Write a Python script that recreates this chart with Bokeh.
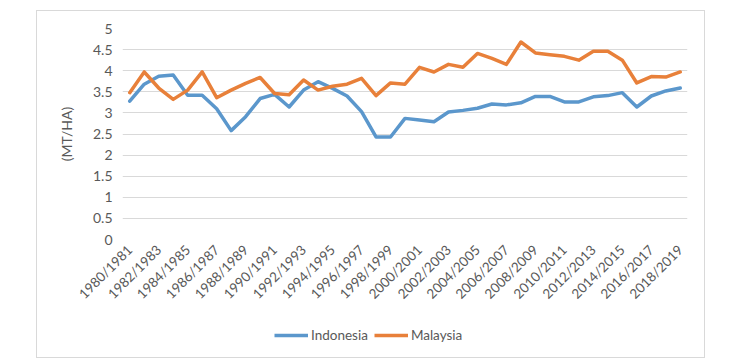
from bokeh.plotting import figure
from bokeh.layouts import column
from bokeh.models import FixedTicker, CustomJSTickFormatter, Legend, LegendItem, Range1d
from bokeh.embed import file_html
from bokeh.resources import INLINE

categories = ["1980/1981", "1981/1982", "1982/1983", "1983/1984", "1984/1985", "1985/1986",
              "1986/1987", "1987/1988", "1988/1989", "1989/1990", "1990/1991", "1991/1992",
              "1992/1993", "1993/1994", "1994/1995", "1995/1996", "1996/1997", "1997/1998",
              "1998/1999", "1999/2000", "2000/2001", "2001/2002", "2002/2003", "2003/2004",
              "2004/2005", "2005/2006", "2006/2007", "2007/2008", "2008/2009", "2009/2010",
              "2010/2011", "2011/2012", "2012/2013", "2013/2014", "2014/2015", "2015/2016",
              "2016/2017", "2017/2018", "2018/2019"]
indonesia = [3.28, 3.68, 3.87, 3.90, 3.42, 3.42, 3.10, 2.58, 2.91, 3.34, 3.44, 3.14, 3.54,
             3.74, 3.58, 3.40, 3.03, 2.43, 2.43, 2.87, 2.83, 2.79, 3.02, 3.06, 3.11, 3.21,
             3.19, 3.24, 3.39, 3.39, 3.26, 3.26, 3.38, 3.41, 3.48, 3.14, 3.40, 3.52, 3.59]
malaysia = [3.48, 3.97, 3.59, 3.32, 3.54, 3.97, 3.36, 3.54, 3.70, 3.84, 3.46, 3.43, 3.78,
            3.54, 3.63, 3.68, 3.82, 3.41, 3.71, 3.68, 4.08, 3.97, 4.15, 4.08, 4.41, 4.29,
            4.15, 4.68, 4.42, 4.38, 4.34, 4.25, 4.46, 4.46, 4.25, 3.71, 3.86, 3.85, 3.97]
y_ticks = [0, 0.5, 1, 1.5, 2, 2.5, 3, 3.5, 4, 4.5, 5]
series_names = ["Indonesia", "Malaysia"]
series_colors = ["#5b97cc", "#e8803a"]
series_values = [indonesia, malaysia]

FONT = "Lato"
TXT = "#595959"

x = list(range(len(categories)))

p = figure(width=667, height=300, output_backend="svg", toolbar_location=None,
           x_range=Range1d(-0.5, len(categories) - 0.5), y_range=Range1d(0, 5),
           min_border_left=85, min_border_right=17, min_border_top=17, min_border_bottom=72)
p.outline_line_color = None
p.background_fill_color = "white"
p.border_fill_color = "white"

for vals, c in zip(series_values, series_colors):
    p.line(x, vals, line_color=c, line_width=3.5, line_join="round", line_cap="round")

# x axis
p.xaxis.ticker = FixedTicker(ticks=x[::2])
p.xaxis.major_label_overrides = {i: categories[i] for i in x[::2]}
p.xaxis.major_label_orientation = 0.785398
p.xaxis.axis_line_color = None
p.xaxis.major_tick_line_color = None
p.xaxis.minor_tick_line_color = None
p.xaxis.major_tick_out = 0
p.xaxis.major_tick_in = 0
p.xaxis.major_label_text_font = FONT
p.xaxis.major_label_text_font_size = "13.5px"
p.xaxis.major_label_text_color = TXT
p.xaxis.major_label_standoff = 8
p.xgrid.grid_line_color = None

# y axis
p.yaxis.ticker = FixedTicker(ticks=y_ticks)
p.yaxis.formatter = CustomJSTickFormatter(code="return String(Math.round(tick*10)/10);")
p.yaxis.axis_line_color = None
p.yaxis.major_tick_line_color = None
p.yaxis.minor_tick_line_color = None
p.yaxis.major_tick_out = 0
p.yaxis.major_tick_in = 0
p.yaxis.major_label_text_font = FONT
p.yaxis.major_label_text_font_size = "14px"
p.yaxis.major_label_text_color = TXT
p.yaxis.major_label_standoff = 10
p.yaxis.axis_label = "(MT/HA)"
p.yaxis.axis_label_text_font = FONT
p.yaxis.axis_label_text_font_style = "normal"
p.yaxis.axis_label_text_font_size = "14px"
p.yaxis.axis_label_text_color = TXT
p.yaxis.axis_label_standoff = 15
p.ygrid.grid_line_color = "#d9d9d9"
p.ygrid.grid_line_width = 1

# legend strip (series drawn out of view here; only their legend glyphs show)
p2 = figure(width=667, height=46, output_backend="svg", toolbar_location=None,
            x_axis_type=None, y_axis_type=None, min_border=0,
            x_range=Range1d(0, 1), y_range=Range1d(-2, -1))
p2.outline_line_color = None
p2.grid.grid_line_color = None
p2.border_fill_color = "white"
lr = [p2.line(x, vals, line_color=c, line_width=3.5)
      for vals, c in zip(series_values, series_colors)]
legend = Legend(items=[LegendItem(label=n, renderers=[r]) for n, r in zip(series_names, lr)],
                location=(152, 14), orientation="horizontal",
                glyph_width=34, glyph_height=16, label_standoff=3, spacing=6,
                padding=0, margin=0, border_line_color=None, background_fill_alpha=0,
                label_text_font=FONT, label_text_font_size="13.5px", label_text_color=TXT)
p2.add_layout(legend, "center")

layout = column(p, p2, spacing=0)
layout.margin = (10, 0, 0, 36)
layout.styles = {"border": "1px solid #d9d9d9"}

open("out.html", "w").write(file_html(layout, INLINE))
